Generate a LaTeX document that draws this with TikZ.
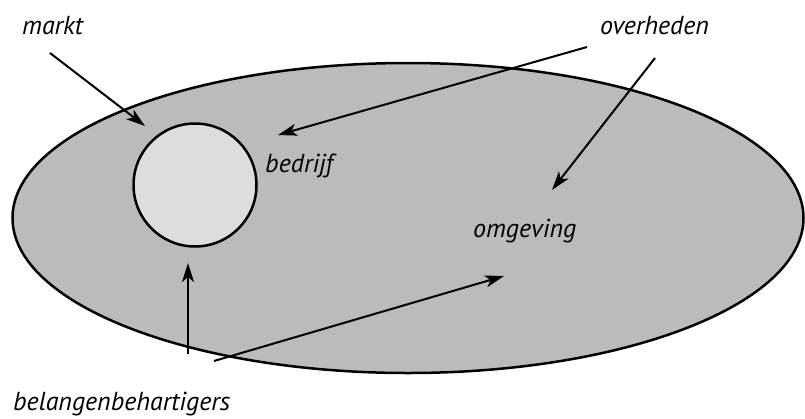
\documentclass[tikz,border=0pt]{standalone}
\usepackage{fontspec}
\setmainfont{PT Sans}
\usetikzlibrary{arrows.meta,shapes.geometric}
\definecolor{outer}{gray}{0.733}
\definecolor{inner}{gray}{0.867}
\tikzset{
  label text/.style={font=\fontsize{26}{30}\selectfont\itshape, inner sep=0pt, anchor=base west},
  conn/.style={line width=2pt, -{Stealth[length=19pt,width=12pt,inset=5pt]}},
}
\begin{document}
\begin{tikzpicture}[x=1pt,y=-1pt]
\useasboundingbox (0,0) rectangle (805,418);
% environment ellipse
\node[ellipse, draw, line width=2.5pt, fill=outer, minimum width=791pt, minimum height=310pt, inner sep=0pt, outer sep=0pt] (omg) at (408,218) {};
% company circle
\node[circle, draw, line width=2.5pt, fill=inner, minimum size=123pt, inner sep=0pt] (bed) at (195,185) {};
% labels
\node[label text] (markt) at (22,34) {markt};
\node[label text] (overheden) at (600,34) {overheden};
\node[label text] (bedrijf) at (265,172) {bedrijf};
\node[label text] (omgeving) at (473,237) {omgeving};
\node[label text] (belangen) at (13,410) {belangenbehartigers};
% connector end points
\coordinate (m1) at (50,53);
\coordinate (m2) at (145,126);
\coordinate (o1) at (587,47);
\coordinate (o2) at (278,135);
\coordinate (o3) at (655,58);
\coordinate (o4) at (552,190);
\coordinate (b1) at (188,354);
\coordinate (b2) at (188,263);
\coordinate (b3) at (214,361);
\coordinate (b4) at (504,276);
% connectors
\draw[conn] (m1) -- (m2);
\draw[conn] (o1) -- (o2);
\draw[conn] (o3) -- (o4);
\draw[conn] (b1) -- (b2);
\draw[conn] (b3) -- (b4);
\end{tikzpicture}
\end{document}
